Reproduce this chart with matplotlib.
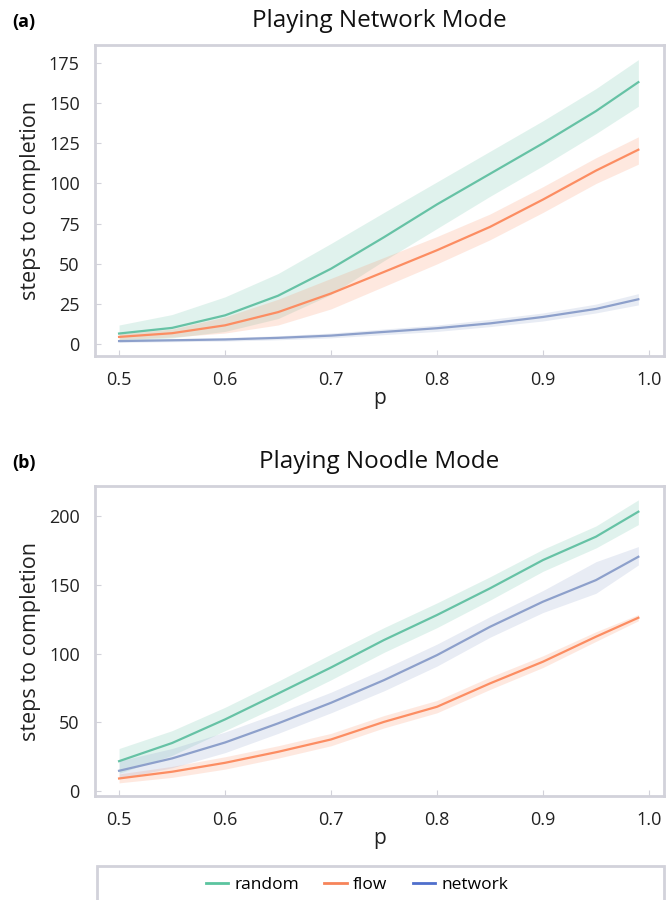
import matplotlib
matplotlib.use("Agg")
from matplotlib import pyplot as plt
from matplotlib.patches import Rectangle
from matplotlib.lines import Line2D

plt.rcParams['font.family'] = ['Open Sans', 'DejaVu Sans']

p = [0.5, 0.55, 0.6, 0.65, 0.7, 0.75, 0.8, 0.85, 0.9, 0.95, 0.99]
labels = ['random', 'flow', 'network']
colors = ['#66c2a5', '#fc8d62', '#8da0cb']
legend_colors = ['#5bc49f', '#f7845a', '#4f6fcc']

# (a) Playing Network Mode
net_random = [6.7, 10.2, 18, 30.2, 47, 66.6, 87, 106, 125, 145, 163]
net_random_hi = [12, 18.5, 29.5, 44, 62.7, 82, 101, 120, 139, 159, 177]
net_random_lo = [2, 4, 8, 16, 31, 52, 72, 92, 111, 131, 148]
net_flow = [4.6, 6.9, 11.8, 20, 31.6, 45, 58.5, 73, 90, 108, 121]
net_flow_hi = [6.5, 9.5, 17, 28, 41, 54, 67, 81, 98, 116, 129]
net_flow_lo = [3, 4.5, 7, 12, 22, 36, 50, 65, 82, 100, 112]
net_network = [2, 2.5, 3, 4, 5.4, 7.7, 10, 13, 17, 22, 28]
net_network_hi = [3, 3.5, 4.2, 5.3, 7, 9.5, 12, 15.5, 19.5, 25, 31.5]
net_network_lo = [1.2, 1.6, 2, 2.8, 4, 6, 8, 11, 14.5, 19.5, 24.5]

# (b) Playing Noodle Mode
ndl_random = [21.8, 35, 52.2, 71, 90, 110, 128.2, 147.6, 168.2, 185.2, 203.4]
ndl_random_hi = [31, 44, 61, 80, 99.7, 119, 137, 156, 176, 193, 212]
ndl_random_lo = [13, 26, 44, 62, 81, 101, 119, 139, 160, 177, 194]
ndl_flow = [9.2, 14.1, 20.6, 28.6, 37.6, 50.4, 61.4, 78.4, 94.2, 112.4, 126.2]
ndl_flow_hi = [12.5, 18, 25, 33, 42, 55, 66, 83, 98.5, 116, 128.5]
ndl_flow_lo = [6, 10, 16, 24, 33, 46, 57, 74, 90, 109, 124]
ndl_network = [14.8, 23.8, 35.4, 49.3, 64.3, 80.8, 99, 119.6, 137.9, 153.6, 170.6]
ndl_network_hi = [22, 31, 43, 57, 72, 89, 107, 127, 146, 167, 178]
ndl_network_lo = [9, 17, 28, 42, 57, 73, 91, 112, 130, 144, 164.6]

panels = [
    ('(a)', 'Playing Network Mode', [0.1414, 0.6044, 0.8467, 0.3456],
     [(net_random, net_random_lo, net_random_hi),
      (net_flow, net_flow_lo, net_flow_hi),
      (net_network, net_network_lo, net_network_hi)],
     (-7.3, 186.1), [0, 25, 50, 75, 100, 125, 150, 175]),
    ('(b)', 'Playing Noodle Mode', [0.1414, 0.1155, 0.8467, 0.3445],
     [(ndl_random, ndl_random_lo, ndl_random_hi),
      (ndl_flow, ndl_flow_lo, ndl_flow_hi),
      (ndl_network, ndl_network_lo, ndl_network_hi)],
     (-3.6, 222.1), [0, 50, 100, 150, 200]),
]

spine_col = '#d2d2da'
text_col = '#222222'
fig = plt.figure(figsize=(6.72, 9), dpi=100)

for tag, title, rect, series, ylim, yticks in panels:
    ax = fig.add_axes(rect)
    for (mean, lo, hi), c in zip(series, colors):
        ax.fill_between(p, lo, hi, color=c, alpha=0.2, linewidth=0)
        ax.plot(p, mean, color=c, linewidth=1.6)
    ax.set_xlim(0.4773, 1.0142)
    ax.set_ylim(*ylim)
    ax.set_xticks([0.5, 0.6, 0.7, 0.8, 0.9, 1.0])
    ax.set_yticks(yticks)
    for s in ax.spines.values():
        s.set_color(spine_col)
        s.set_linewidth(2)
    ax.tick_params(direction='in', length=4, width=0.8, color=spine_col,
                   labelsize=13, labelcolor=text_col, pad=11)
    ax.set_xlabel('p', fontsize=15, labelpad=-1, color=text_col)
    ax.set_ylabel('steps to completion', fontsize=15.5, labelpad=6, color=text_col)
    ax.set_title(title, fontsize=17.5, pad=12.7, color='#111111')
    top = rect[1] + rect[3]
    fig.text(12 / 672, top + 23 / 900, tag, fontsize=13, fontweight='bold',
             va='center', ha='left')

fig.patches.append(Rectangle((97 / 672, -0.05), 567 / 672, 0.05 + 34 / 900,
                             transform=fig.transFigure, fill=False,
                             edgecolor=spine_col, linewidth=2))
handles = [Line2D([], [], color=c, linewidth=2) for c in legend_colors]
fig.legend(handles, labels, loc='center', bbox_to_anchor=(357 / 672, 1 - 885 / 900),
           ncol=3, frameon=False, fontsize=12.5, handlelength=1.3,
           handletextpad=0.35, columnspacing=1.45)

fig.savefig('out.png', dpi=100)
